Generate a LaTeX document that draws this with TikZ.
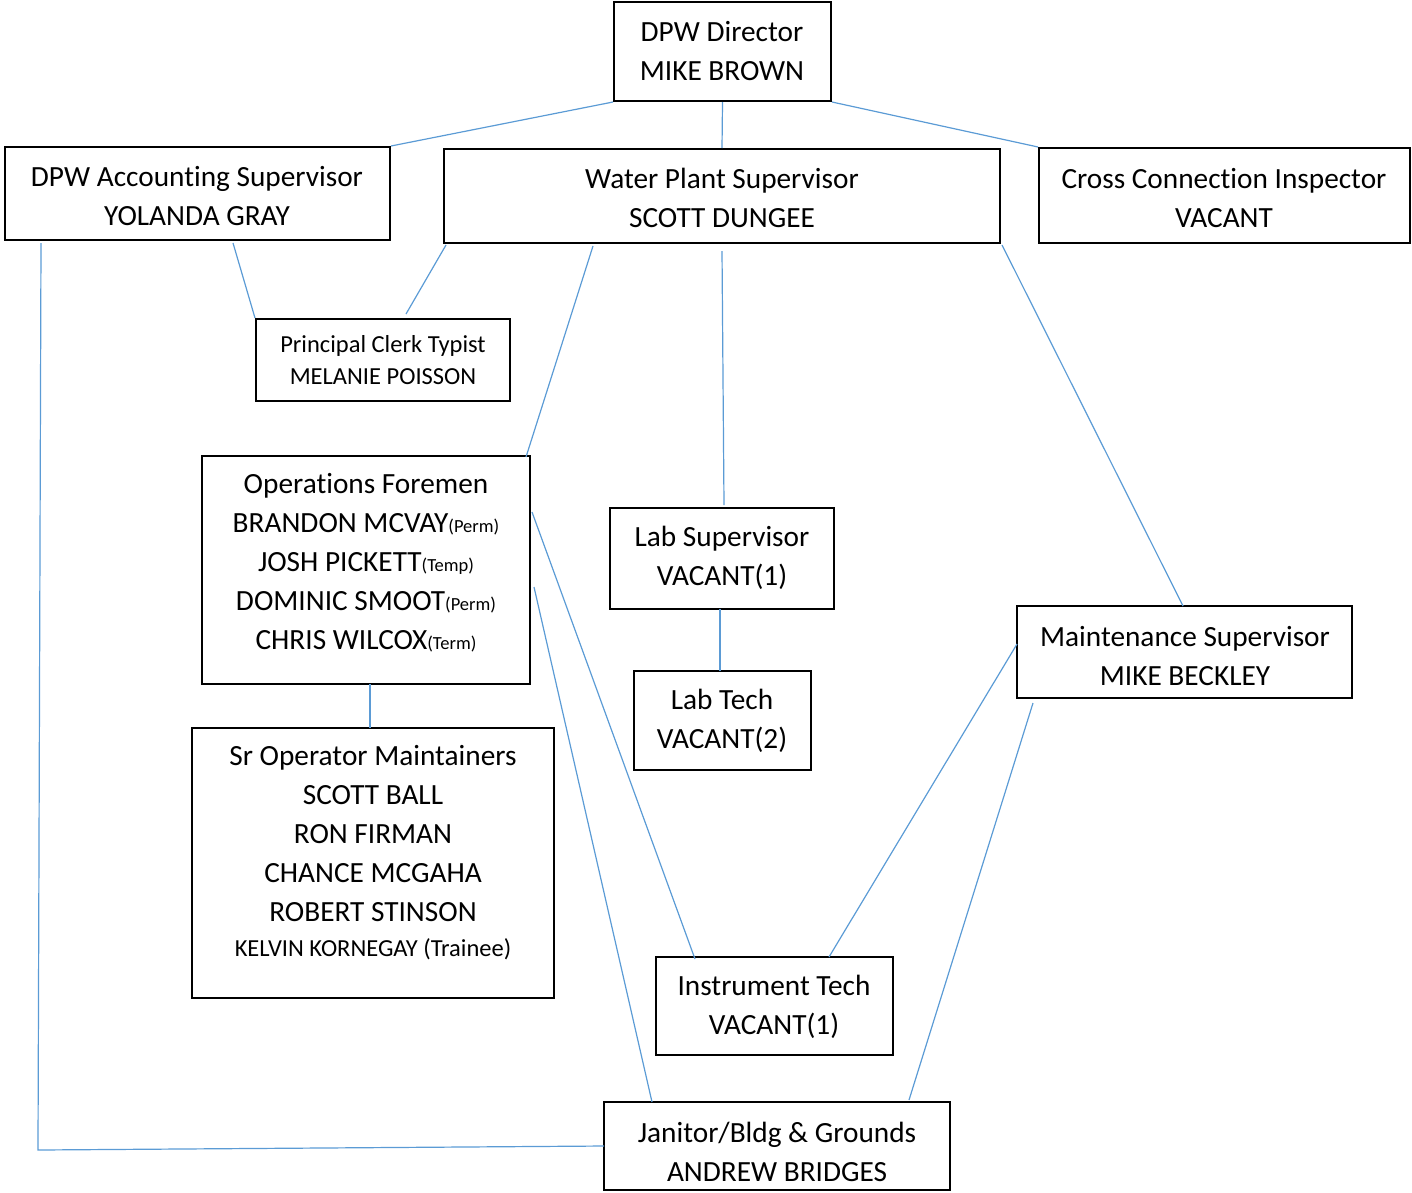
\documentclass[tikz,border=0pt]{standalone}
\usepackage{fontspec}
\setmainfont{Carlito}[Ligatures=NoCommon]
\definecolor{conn}{HTML}{5B9BD5}
\newcommand{\bigf}{\fontsize{29.3}{39}\selectfont}
\newcommand{\smallf}{\fontsize{24.5}{32}\selectfont}
\newcommand{\tagf}{\fontsize{18.5}{20}\selectfont}
\begin{document}
\begin{tikzpicture}[x=1pt,y=-1pt,
  box/.style={draw=black,line width=2pt,fill=white,inner sep=0pt},
  txt/.style={inner sep=0pt,align=center,font=\bigf},
  stxt/.style={inner sep=0pt,align=center,font=\smallf},
  link/.style={draw=conn,line width=1.2pt}]
\useasboundingbox (0,0) rectangle (1412,1192);
% connector end points
\coordinate (a1) at (233,243);
\coordinate (w1) at (446,245);
\coordinate (p1) at (406,314);
\coordinate (w2) at (593,246);
\coordinate (o1) at (526,457);
\coordinate (w3) at (722,251);
\coordinate (l1) at (724,505);
\coordinate (w4) at (1002,245);
\coordinate (m1) at (1183,606);
\coordinate (a2) at (41,243);
\coordinate (bend) at (38,1150);
\coordinate (j0) at (604,1146);
\coordinate (o2) at (370,684);
\coordinate (s1) at (370,728);
\coordinate (l2) at (720,609);
\coordinate (t1) at (720,671);
\coordinate (o3) at (532,512);
\coordinate (i1) at (695,959);
\coordinate (o4) at (534,587);
\coordinate (j1) at (652,1102);
\coordinate (m2) at (1017,644);
\coordinate (i2) at (829,957);
\coordinate (m3) at (1033,703);
\coordinate (j2) at (909,1100);
% boxes
\node[box,minimum width=217pt,minimum height=99pt] (dir) at (722.5,51.5) {};
\node[box,minimum width=385pt,minimum height=93pt] (acc) at (197.5,193.5) {};
\node[box,minimum width=556pt,minimum height=94pt] (wps) at (722,196) {};
\node[box,minimum width=371pt,minimum height=95pt] (cci) at (1224.5,195.5) {};
\node[box,minimum width=254pt,minimum height=82pt] (pct) at (383,360) {};
\node[box,minimum width=328pt,minimum height=228pt] (ops) at (366,570) {};
\node[box,minimum width=224pt,minimum height=101pt] (lab) at (722,558.5) {};
\node[box,minimum width=177pt,minimum height=99pt] (ltech) at (722.5,720.5) {};
\node[box,minimum width=335pt,minimum height=92pt] (mnt) at (1184.5,652) {};
\node[box,minimum width=362pt,minimum height=270pt] (sro) at (373,863) {};
\node[box,minimum width=237pt,minimum height=98pt] (inst) at (774.5,1006) {};
\node[box,minimum width=346pt,minimum height=88pt] (jan) at (777,1146) {};
% connectors
\draw[link] (dir.south west) -- (acc.north east);
\draw[link] (dir.south) -- (wps.north);
\draw[link] (dir.south east) -- (cci.north west);
\draw[link] (a1) -- (pct.north west);
\draw[link] (w1) -- (p1);
\draw[link] (w2) -- (o1);
\draw[link] (w3) -- (l1);
\draw[link] (w4) -- (m1);
\draw[link] (a2) -- (bend) -- (j0);
\draw[link] (o2) -- (s1);
\draw[link] (l2) -- (t1);
\draw[link] (o3) -- (i1);
\draw[link] (o4) -- (j1);
\draw[link] (m2) -- (i2);
\draw[link] (m3) -- (j2);
% texts
\node[txt] (dirT) at (722,51) {DPW Director\\MIKE BROWN};
\node[txt] (accT) at (197,196) {DPW Accounting Supervisor\\YOLANDA GRAY};
\node[txt] (wpsT) at (722,198) {Water Plant Supervisor\\SCOTT DUNGEE};
\node[txt] (cciT) at (1224,198) {Cross Connection Inspector\\VACANT};
\node[stxt] (pctT) at (383,360.5) {Principal Clerk Typist\\MELANIE POISSON};
\node[txt] (opsT) at (366,563) {Operations Foremen\\
  BRANDON MCVAY{\tagf(Perm)}\\
  JOSH PICKETT{\tagf(Temp)}\\
  DOMINIC SMOOT{\tagf(Perm)}\\
  CHRIS WILCOX{\tagf(Term)}};
\node[txt] (labT) at (722,558) {Lab Supervisor\\VACANT(1)};
\node[txt] (ltechT) at (722,721) {Lab Tech\\VACANT(2)};
\node[txt] (mntT) at (1185,656) {Maintenance Supervisor\\MIKE BECKLEY};
\node[txt] (sroT) at (373,852.5) {Sr Operator Maintainers\\SCOTT BALL\\RON FIRMAN\\CHANCE MCGAHA\\ROBERT STINSON\\[-4pt]{\smallf KELVIN KORNEGAY (Trainee)}};
\node[txt] (instT) at (774,1006.5) {Instrument Tech\\VACANT(1)};
\node[txt] (janT) at (777,1151.5) {Janitor/Bldg \& Grounds\\ANDREW BRIDGES};
\end{tikzpicture}
\end{document}
